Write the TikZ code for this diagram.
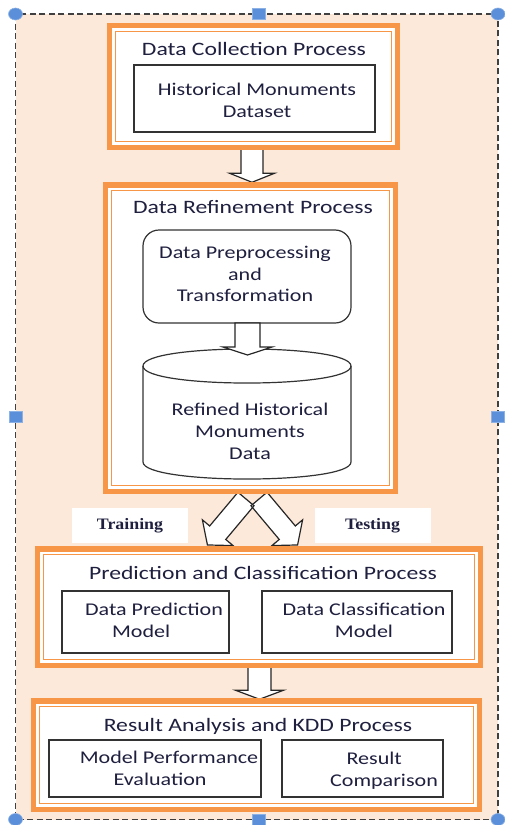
\documentclass[tikz,border=0pt]{standalone}
\usepackage{fontspec}
\setmainfont{Carlito}
\newfontfamily\labelserif{Liberation Serif}
\usetikzlibrary{calc}
\pgfdeclarelayer{back}
\pgfdeclarelayer{mid}
\pgfsetlayers{back,mid,main}
\definecolor{orng}{HTML}{F79646}
\definecolor{peach}{HTML}{FDE9D9}
\definecolor{hblue}{HTML}{5B8FD9}
\definecolor{ink}{HTML}{1F1F3F}
% #1 style, #2 tail, #3 angle, #4 length, #5 shaft half width, #6 head half width, #7 head length
\newcommand\BArrow[7][barrow]{%
  \begin{scope}[shift={#2}, rotate=#3]
    \path[#1] (0,-#5) -- ({#4-#7},-#5) -- ({#4-#7},-#6) -- (#4,0) -- ({#4-#7},#6) -- ({#4-#7},#5) -- (0,#5) -- cycle;
  \end{scope}}
\begin{document}
\begin{tikzpicture}[x=1bp,y=-1bp,
  obox/.style={draw=orng, line width=5.5bp, fill=white, inner sep=0, outer sep=0},
  thinor/.style={draw=orng, line width=1.3bp},
  ibox/.style={draw=black!80, line width=1.2bp, fill=white, inner sep=0, outer sep=0},
  ttl/.style={text=ink, font=\fontsize{19}{22}\selectfont, xscale=1.25, anchor=base, inner sep=0},
  itx/.style={text=ink, font=\fontsize{18}{21.5}\selectfont, xscale=1.23, align=center, inner sep=0, anchor=base},
  lbl/.style={fill=white, inner sep=0, minimum width=116bp, minimum height=35bp, text=ink,
    font=\labelserif\bfseries\fontsize{16}{18}\selectfont},
  barrow/.style={draw=black!85, line width=1.2bp, fill=white, line join=miter},
  bfill/.style={fill=white},
  bline/.style={draw=black!85, line width=1.2bp, line join=miter},
  frame/.style={draw=black!75, line width=1.3bp, dash pattern=on 6bp off 3.5bp},
  handlec/.style={fill=hblue, draw=hblue!70!white, line width=0.6bp}]
\useasboundingbox (0,0) rectangle (505,825);

% background frame
\begin{pgfonlayer}{back}
  \fill[peach] (15.5,14) rectangle (498,819.5);
  \draw[frame] (15.5,14) rectangle (498,819.5);
\end{pgfonlayer}

% ---------- process boxes ----------
\node[obox, minimum width=287.5bp, minimum height=121.5bp] (b1) at (253.5,86.5) {};
\draw[thinor] ($(b1.north west)+(6,6)$) rectangle ($(b1.south east)+(-6,-6)$);
\node[obox, minimum width=289.5bp, minimum height=306.5bp] (b2) at (250.5,338) {};
\draw[thinor] ($(b2.north west)+(6,6)$) rectangle ($(b2.south east)+(-6,-6)$);
\node[obox, minimum width=442.5bp, minimum height=116.5bp] (b3) at (259,607) {};
\draw[thinor] ($(b3.north west)+(6,6)$) rectangle ($(b3.south east)+(-6,-6)$);
\node[obox, minimum width=445.5bp, minimum height=108.5bp] (b4) at (256.5,755) {};
\draw[thinor] ($(b4.north west)+(6,6)$) rectangle ($(b4.south east)+(-6,-6)$);

\node[ttl] (t1) at (254,55) {Data Collection Process};
\node[ttl] (t2) at (253,213) {Data Refinement Process};
\node[ttl] (t3) at (263,579) {Prediction and Classification Process};
\node[ttl] (t4) at (258,731.5) {Result Analysis and KDD Process};

% ---------- inner boxes ----------
\node[ibox, minimum width=241bp, minimum height=67bp] (ds) at (254.5,98.5) {};
\node[itx] (dst) at (257,117.3) {Historical Monuments\\Dataset};

\node[ibox, rounded corners=16bp, minimum width=208bp, minimum height=93bp] (pre) at (247,276.5) {};
\node[itx] (pret) at (245,301.7) {Data Preprocessing\\and\\Transformation};

% cylinder
\coordinate (cyl) at (247,414);
\path[fill=white] (143,366) .. controls (143,343.3) and (351,343.3) .. (351,366) -- (351,462)
  .. controls (351,484.7) and (143,484.7) .. (143,462) -- cycle;
\draw[draw=black!80, line width=1.2bp] (143,366) .. controls (143,343.3) and (351,343.3) .. (351,366)
  .. controls (351,388.7) and (143,388.7) .. (143,366);
\draw[draw=black!80, line width=1.2bp] (143,366) -- (143,462) .. controls (143,484.7) and (351,484.7) .. (351,462) -- (351,366);
\node[itx, font=\fontsize{18}{22}\selectfont] (cylt) at (250,459.3) {Refined Historical\\Monuments\\Data};

\BArrow{(247.5,323)}{-90}{32}{12.5}{24.5}{8}

\node[ibox, minimum width=167bp, minimum height=62bp] (pm) at (145.5,622) {};
\node[itx] (pmt) at (154,637.3) {Data Prediction\\Model\hspace*{21bp}};
\node[ibox, minimum width=190bp, minimum height=62bp] (cm) at (357,622) {};
\node[itx] (cmt) at (364,637.3) {Data Classification\\Model};

\node[ibox, minimum width=212bp, minimum height=57bp] (mpe) at (155,768.5) {};
\node[itx] (mpet) at (169,785) {Model Performance\\Evaluation\hspace*{14.5bp}};
\node[ibox, minimum width=161bp, minimum height=57bp] (rc) at (362.5,768.5) {};
\node[itx] (rct) at (384,786) {Result\hspace*{16bp}\\Comparison};

% labels
\node[lbl] (tr) at (130,525.5) {\scalebox{1.12}[1]{Training}};
\node[lbl] (te) at (372.5,525.5) {\scalebox{1.12}[1]{Testing}};

% ---------- block arrows ----------
\begin{pgfonlayer}{mid}
  \BArrow{($(b1.south)+(-1.5,0)$)}{-90}{35}{11}{22.5}{9}
  \BArrow{($(b3.south)+(0.5,0)$)}{-90}{34}{11.5}{24}{9}
  \BArrow[bfill]{(246,499)}{230}{60}{10.5}{20}{16}
  \BArrow[bfill]{(259,499)}{-50}{60}{10.5}{20}{16}
  \BArrow[bline]{(246,499)}{230}{60}{10.5}{20}{16}
  \BArrow[bline]{(259,499)}{-50}{60}{10.5}{20}{16}
\end{pgfonlayer}

% selection handles
\foreach \hx/\hy in {15.5/14, 498/14, 15.5/819.5, 498/819.5}
  \draw[handlec] (\hx,\hy) ellipse [x radius=7, y radius=6];
\foreach \hx/\hy in {258.5/14, 15.5/416.5, 498/416.5, 258.5/819.5}
  \draw[handlec] (\hx-6.5,\hy-5.5) rectangle (\hx+6.5,\hy+5.5);
\end{tikzpicture}
\end{document}
